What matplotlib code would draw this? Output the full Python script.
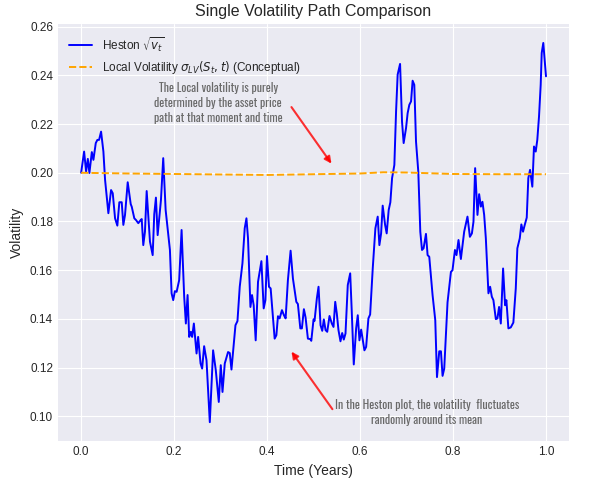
import matplotlib
matplotlib.use("Agg")
import matplotlib.pyplot as plt

# Heston sqrt(v_t) path (vertices of the path)
time_heston = [
    0.0000, 0.0064, 0.0107, 0.0144, 0.0178, 0.0230, 0.0264, 0.0315, 0.0350, 0.0386,
    0.0429, 0.0479, 0.0515, 0.0586, 0.0644, 0.0680, 0.0730, 0.0779, 0.0822, 0.0873,
    0.0908, 0.0944, 0.1002, 0.1067, 0.1088, 0.1144, 0.1180, 0.1230, 0.1281, 0.1303,
    0.1337, 0.1373, 0.1410, 0.1481, 0.1539, 0.1573, 0.1609, 0.1646, 0.1717, 0.1766,
    0.1818, 0.1910, 0.1946, 0.1981, 0.2017, 0.2054, 0.2109, 0.2161, 0.2217, 0.2253,
    0.2290, 0.2324, 0.2361, 0.2388, 0.2425, 0.2483, 0.2517, 0.2569, 0.2603, 0.2646,
    0.2697, 0.2768, 0.2839, 0.2897, 0.2961, 0.3004, 0.3041, 0.3090, 0.3161, 0.3197,
    0.3234, 0.3320, 0.3363, 0.3412, 0.3470, 0.3519, 0.3556, 0.3590, 0.3642, 0.3676,
    0.3712, 0.3755, 0.3805, 0.3878, 0.3927, 0.3964, 0.3998, 0.4041, 0.4077, 0.4163,
    0.4200, 0.4234, 0.4270, 0.4320, 0.4363, 0.4399, 0.4448, 0.4506, 0.4556, 0.4629,
    0.4663, 0.4715, 0.4749, 0.4792, 0.4828, 0.4878, 0.4929, 0.4951, 0.5000, 0.5021,
    0.5071, 0.5107, 0.5150, 0.5187, 0.5221, 0.5258, 0.5294, 0.5343, 0.5393, 0.5429,
    0.5466, 0.5500, 0.5536, 0.5579, 0.5616, 0.5650, 0.5687, 0.5736, 0.5788, 0.5822,
    0.5865, 0.5916, 0.5951, 0.5987, 0.6024, 0.6094, 0.6131, 0.6180, 0.6217, 0.6273,
    0.6330, 0.6380, 0.6416, 0.6453, 0.6487, 0.6539, 0.6573, 0.6616, 0.6652, 0.6689,
    0.6738, 0.6775, 0.6809, 0.6861, 0.6903, 0.6938, 0.6989, 0.7024, 0.7060, 0.7097,
    0.7131, 0.7167, 0.7204, 0.7253, 0.7296, 0.7333, 0.7367, 0.7418, 0.7453, 0.7489,
    0.7560, 0.7618, 0.7655, 0.7704, 0.7740, 0.7775, 0.7811, 0.7882, 0.7955, 0.7989,
    0.8041, 0.8075, 0.8118, 0.8169, 0.8240, 0.8311, 0.8363, 0.8406, 0.8440, 0.8476,
    0.8526, 0.8562, 0.8599, 0.8633, 0.8670, 0.8706, 0.8762, 0.8798, 0.8835, 0.8869,
    0.8921, 0.8955, 0.8991, 0.9028, 0.9077, 0.9120, 0.9148, 0.9191, 0.9242, 0.9298,
    0.9350, 0.9384, 0.9436, 0.9470, 0.9506, 0.9543, 0.9586, 0.9620, 0.9657, 0.9706,
    0.9742, 0.9779, 0.9813, 0.9850, 0.9886, 0.9908, 0.9942, 1.0000,
]
vol_heston = [
    0.2000, 0.2087, 0.2005, 0.2057, 0.1999, 0.2085, 0.2053, 0.2122, 0.2135, 0.2135,
    0.2169, 0.2087, 0.1971, 0.1834, 0.1929, 0.1916, 0.1813, 0.1783, 0.1879, 0.1879,
    0.1786, 0.1827, 0.1961, 0.1871, 0.1861, 0.1813, 0.1806, 0.1793, 0.1806, 0.1810,
    0.1703, 0.1758, 0.1925, 0.1717, 0.1662, 0.1830, 0.1898, 0.1744, 0.1888, 0.2060,
    0.1847, 0.1683, 0.1505, 0.1477, 0.1514, 0.1511, 0.1559, 0.1765, 0.1491, 0.1381,
    0.1498, 0.1326, 0.1347, 0.1326, 0.1381, 0.1258, 0.1326, 0.1217, 0.1196, 0.1288,
    0.1230, 0.0976, 0.1271, 0.1189, 0.1059, 0.1210, 0.1100, 0.1217, 0.1264, 0.1260,
    0.1192, 0.1374, 0.1391, 0.1532, 0.1628, 0.1772, 0.1813, 0.1731, 0.1449, 0.1498,
    0.1456, 0.1312, 0.1552, 0.1637, 0.1443, 0.1477, 0.1658, 0.1532, 0.1525, 0.1319,
    0.1333, 0.1411, 0.1402, 0.1436, 0.1415, 0.1402, 0.1559, 0.1680, 0.1566, 0.1470,
    0.1461, 0.1361, 0.1361, 0.1440, 0.1406, 0.1319, 0.1317, 0.1310, 0.1398, 0.1392,
    0.1484, 0.1532, 0.1374, 0.1351, 0.1398, 0.1354, 0.1347, 0.1412, 0.1381, 0.1367,
    0.1470, 0.1422, 0.1354, 0.1308, 0.1342, 0.1315, 0.1340, 0.1539, 0.1587, 0.1429,
    0.1213, 0.1361, 0.1415, 0.1312, 0.1356, 0.1271, 0.1285, 0.1402, 0.1418, 0.1607,
    0.1772, 0.1820, 0.1703, 0.1751, 0.1865, 0.1786, 0.1751, 0.1847, 0.1879, 0.1978,
    0.2032, 0.2252, 0.2403, 0.2447, 0.2210, 0.2122, 0.2183, 0.2245, 0.2279, 0.2293,
    0.2378, 0.2361, 0.2128, 0.2005, 0.1758, 0.1683, 0.1690, 0.1749, 0.1662, 0.1655,
    0.1498, 0.1395, 0.1161, 0.1267, 0.1267, 0.1166, 0.1196, 0.1468, 0.1593, 0.1600,
    0.1683, 0.1662, 0.1724, 0.1646, 0.1758, 0.1820, 0.1737, 0.1751, 0.1799, 0.2019,
    0.1827, 0.1912, 0.1861, 0.1881, 0.1827, 0.1731, 0.1505, 0.1532, 0.1491, 0.1477,
    0.1399, 0.1402, 0.1449, 0.1381, 0.1607, 0.1456, 0.1477, 0.1361, 0.1365, 0.1385,
    0.1525, 0.1690, 0.1731, 0.1788, 0.1758, 0.1786, 0.1816, 0.1978, 0.2012, 0.1943,
    0.2108, 0.2087, 0.2135, 0.2231, 0.2361, 0.2492, 0.2533, 0.2396,
]

# Local volatility (conceptual), nearly flat around 0.20
time_local = [0.0, 0.1, 0.2, 0.3, 0.4, 0.5, 0.6, 0.65, 0.7, 0.8, 0.9, 1.0]
vol_local = [0.2000, 0.1997, 0.1995, 0.1993, 0.1991, 0.1994, 0.1997, 0.2002, 0.2001,
             0.1995, 0.1994, 0.1994]

note_top = 'The Local volatility is purely\ndetermined by the asset price\npath at that moment and time'
note_bottom = 'In the Heston plot, the volatility  fluctuates\nrandomly around its mean'

plt.style.use('seaborn-v0_8-darkgrid')

fig, ax = plt.subplots(figsize=(6.03, 4.8), dpi=100)
fig.subplots_adjust(left=0.096, right=0.944, bottom=0.081, top=0.95)

ax.plot(time_heston, vol_heston, color='blue', lw=1.4, label=r'Heston $\sqrt{v_t}$')
ax.plot(time_local, vol_local, color='orange', ls='--', lw=1.4,
        label=r'Local Volatility $\sigma_{LV}(S_t, t)$ (Conceptual)')

ax.set_title('Single Volatility Path Comparison', fontsize=11.5)
ax.set_xlabel('Time (Years)', fontsize=10)
ax.set_ylabel('Volatility', fontsize=10)
ax.tick_params(labelsize=8.5)
ax.legend(loc='upper left', fontsize=8.5)

# narrow font for the notes
note_font = ['Oswald', 'Pathway Gothic One', 'Archivo Narrow', 'Barlow Condensed', 'DejaVu Sans']
ax.text(0.295, 0.2287, note_top, ha='center', va='center', color='dimgray',
        fontsize=8.5, family=note_font, fontweight='light', linespacing=1.3)
ax.annotate('', xy=(0.542, 0.2028), xytext=(0.449, 0.2279),
            arrowprops=dict(arrowstyle='-|>', color='red', alpha=0.8, lw=1.5))

ax.text(0.744, 0.1015, note_bottom, ha='center', va='center', color='dimgray',
        fontsize=8.5, family=note_font, fontweight='light', linespacing=1.3)
ax.annotate('', xy=(0.449, 0.1275), xytext=(0.544, 0.102),
            arrowprops=dict(arrowstyle='-|>', color='red', alpha=0.8, lw=1.5))

plt.savefig('out.png', dpi=100)
